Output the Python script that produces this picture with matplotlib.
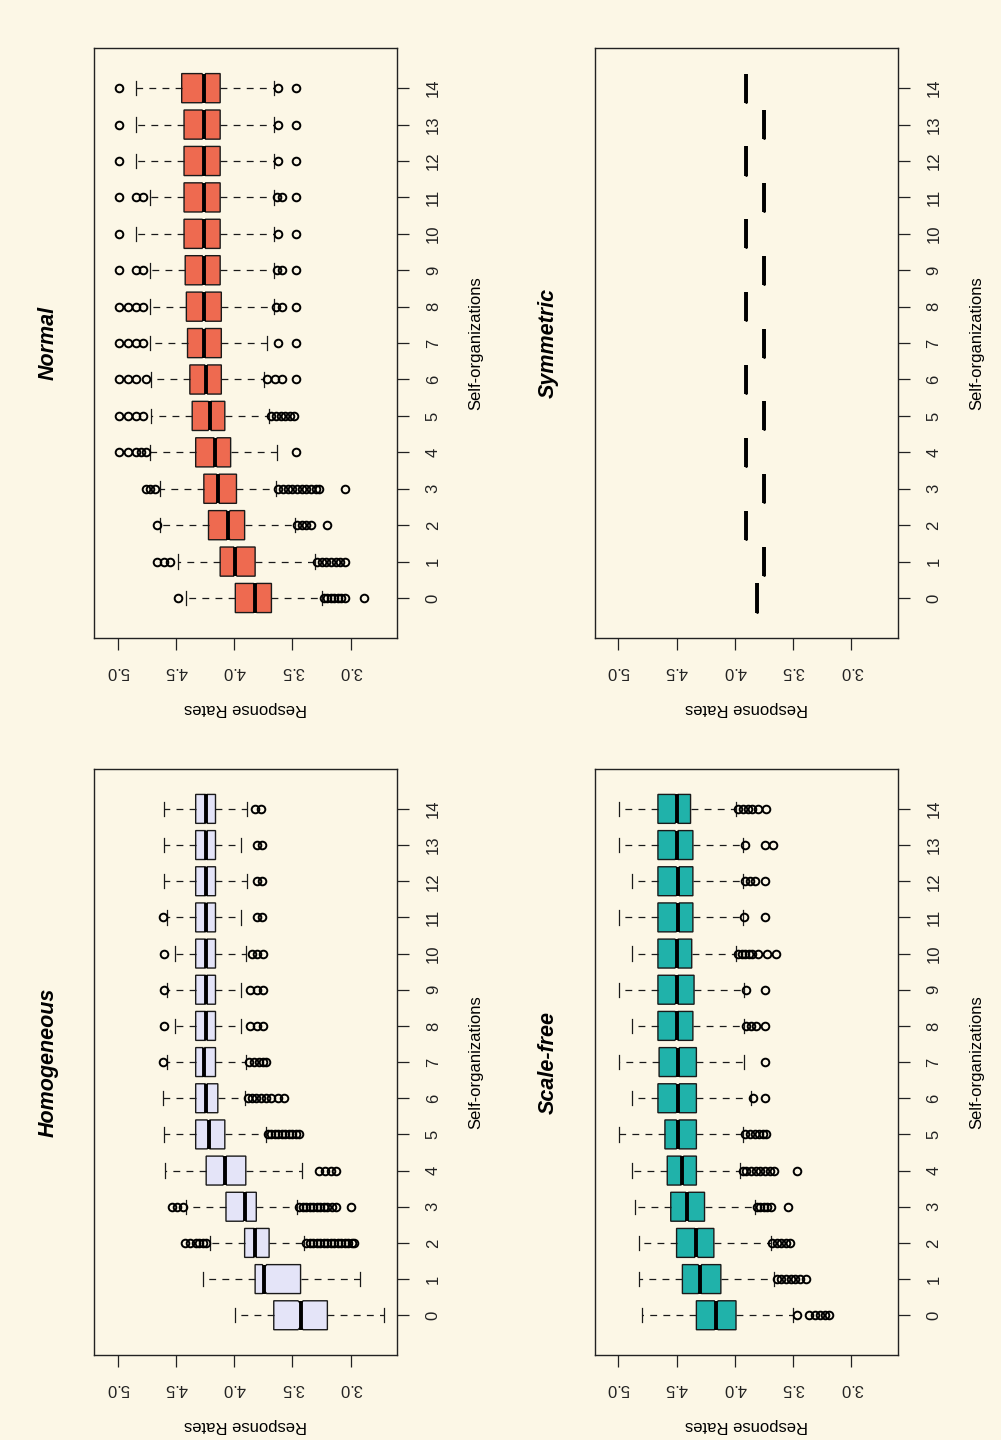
import numpy as np
import matplotlib
matplotlib.use("Agg")
import matplotlib.pyplot as plt
from matplotlib.path import Path

plt.rcParams['font.family'] = ['Liberation Sans', 'DejaVu Sans']

orgs = list(range(15))
tick_vals = [3.0, 3.5, 4.0, 4.5, 5.0]
n_runs = 1000   # runs per box, only used for the notch size

# Homogeneous
hom_whishi = [3.99, 4.27, 4.21, 4.41, 4.59, 4.60, 4.61, 4.58, 4.51, 4.58, 4.51, 4.58, 4.60, 4.60, 4.60]
hom_q3     = [3.66, 3.82, 3.91, 4.07, 4.24, 4.33, 4.33, 4.33, 4.33, 4.33, 4.33, 4.33, 4.33, 4.33, 4.33]
hom_med    = [3.43, 3.74, 3.82, 3.91, 4.08, 4.22, 4.24, 4.26, 4.24, 4.24, 4.24, 4.24, 4.24, 4.24, 4.24]
hom_q1     = [3.20, 3.43, 3.70, 3.81, 3.90, 4.08, 4.14, 4.16, 4.16, 4.16, 4.16, 4.16, 4.16, 4.16, 4.16]
hom_whislo = [2.71, 2.92, 3.40, 3.46, 3.42, 3.73, 3.91, 3.90, 3.94, 3.94, 3.90, 3.94, 3.89, 3.94, 3.89]
hom_fliers = [
    [],
    [],
    [4.42, 4.38, 4.33, 4.30, 4.27, 4.24, 3.38, 3.35, 3.32, 3.29, 3.26, 3.23, 3.20, 3.17,
     3.14, 3.11, 3.08, 3.05, 3.02, 2.99, 2.97],
    [4.53, 4.49, 4.44, 3.44, 3.41, 3.38, 3.35, 3.32, 3.29, 3.26, 3.23, 3.20, 3.16, 3.13, 3.00],
    [3.27, 3.22, 3.17, 3.13],
    [3.71, 3.68, 3.65, 3.62, 3.59, 3.56, 3.53, 3.50, 3.47, 3.44],
    [3.88, 3.85, 3.81, 3.77, 3.73, 3.68, 3.62, 3.57],
    [4.61, 3.87, 3.83, 3.79, 3.75, 3.73],
    [4.60, 3.86, 3.80, 3.75],
    [4.60, 3.86, 3.80, 3.75],
    [4.60, 3.85, 3.80, 3.75],
    [4.61, 3.80, 3.76],
    [3.80, 3.76],
    [3.80, 3.76],
    [3.82, 3.77],
]

# Normal
nor_whishi = [4.41, 4.48, 4.64, 4.64, 4.72, 4.71, 4.71, 4.72, 4.72, 4.72, 4.84, 4.72, 4.84, 4.84, 4.84]
nor_q3     = [3.99, 4.12, 4.22, 4.26, 4.33, 4.36, 4.38, 4.40, 4.41, 4.42, 4.43, 4.43, 4.43, 4.43, 4.45]
nor_med    = [3.82, 3.99, 4.05, 4.14, 4.16, 4.21, 4.24, 4.26, 4.26, 4.26, 4.26, 4.26, 4.26, 4.26, 4.26]
nor_q1     = [3.68, 3.82, 3.91, 3.98, 4.03, 4.08, 4.11, 4.11, 4.11, 4.12, 4.12, 4.12, 4.12, 4.12, 4.12]
nor_whislo = [3.25, 3.31, 3.48, 3.64, 3.63, 3.70, 3.74, 3.72, 3.66, 3.66, 3.66, 3.66, 3.66, 3.66, 3.66]
nor_fliers = [
    [4.48, 3.23, 3.20, 3.17, 3.14, 3.11, 3.08, 3.05, 2.89],
    [4.66, 4.60, 4.55, 3.29, 3.25, 3.21, 3.17, 3.13, 3.09, 3.05],
    [4.66, 3.46, 3.42, 3.38, 3.34, 3.20],
    [4.76, 4.72, 4.68, 3.62, 3.58, 3.54, 3.50, 3.46, 3.42, 3.38, 3.34, 3.30, 3.27, 3.05],
    [4.99, 4.91, 4.84, 4.80, 4.76, 3.47],
    [4.99, 4.91, 4.84, 4.78, 3.68, 3.64, 3.60, 3.56, 3.52, 3.49],
    [4.99, 4.91, 4.84, 4.76, 3.72, 3.65, 3.59, 3.47],
    [4.99, 4.91, 4.84, 4.78, 3.62, 3.47],
    [4.99, 4.91, 4.84, 4.78, 3.64, 3.59, 3.47],
    [4.99, 4.84, 4.78, 3.63, 3.59, 3.47],
    [4.99, 3.62, 3.47],
    [4.99, 4.84, 4.78, 3.63, 3.59, 3.47],
    [4.99, 3.62, 3.47],
    [4.99, 3.62, 3.47],
    [4.99, 3.62, 3.47],
]

# Scale-free
sf_whishi = [4.80, 4.82, 4.82, 4.86, 4.88, 4.99, 4.88, 4.99, 4.88, 4.99, 4.88, 4.99, 4.88, 4.99, 4.99]
sf_q3     = [4.33, 4.45, 4.50, 4.55, 4.58, 4.60, 4.66, 4.65, 4.66, 4.66, 4.66, 4.66, 4.66, 4.66, 4.66]
sf_med    = [4.16, 4.30, 4.33, 4.41, 4.45, 4.49, 4.49, 4.49, 4.50, 4.50, 4.50, 4.49, 4.49, 4.50, 4.50]
sf_q1     = [3.99, 4.12, 4.18, 4.26, 4.33, 4.33, 4.33, 4.33, 4.36, 4.35, 4.37, 4.36, 4.36, 4.36, 4.38]
sf_whislo = [3.50, 3.66, 3.69, 3.83, 3.96, 3.93, 3.86, 3.92, 3.92, 3.92, 3.99, 3.93, 3.93, 3.93, 3.99]
sf_fliers = [
    [3.47, 3.36, 3.31, 3.27, 3.23, 3.19],
    [3.64, 3.60, 3.56, 3.52, 3.48, 3.44, 3.39],
    [3.68, 3.64, 3.60, 3.56, 3.53],
    [3.81, 3.78, 3.75, 3.72, 3.69, 3.54],
    [3.93, 3.90, 3.86, 3.82, 3.78, 3.74, 3.70, 3.66, 3.47],
    [3.91, 3.87, 3.83, 3.79, 3.76, 3.73],
    [3.84, 3.74],
    [3.74],
    [3.90, 3.86, 3.82, 3.74],
    [3.90, 3.74],
    [3.97, 3.94, 3.91, 3.88, 3.85, 3.80, 3.72, 3.65],
    [3.92, 3.74],
    [3.91, 3.87, 3.83, 3.74],
    [3.91, 3.74, 3.67],
    [3.97, 3.93, 3.89, 3.85, 3.80, 3.73],
]

# Symmetric (every run gives the same value)
sym_med = [3.81, 3.75, 3.90, 3.75, 3.90, 3.75, 3.90, 3.75, 3.90, 3.75, 3.90, 3.75, 3.90, 3.75, 3.90]

bg = '#fcf7e6'
box_w = 0.8


def make_stats(whishi, q3, med, q1, whislo, fliers):
    out = []
    for hi, a, m, b, lo, fl in zip(whishi, q3, med, q1, whislo, fliers):
        ci = 1.57 * (a - b) / np.sqrt(n_runs)
        out.append(dict(med=m, q1=b, q3=a, whislo=lo, whishi=hi,
                        fliers=fl, cilo=m - ci, cihi=m + ci))
    return out


fig = plt.figure(figsize=(10.01, 14.40), dpi=100)
fig.patch.set_facecolor(bg)


def panel(rect, stats, color, title):
    ax = fig.add_axes(rect)
    ax.set_facecolor(bg)
    res = ax.bxp(stats, positions=orgs, widths=box_w, orientation='horizontal',
                 shownotches=True, patch_artist=True,
                 boxprops=dict(facecolor=color, edgecolor='#1a1a1a', linewidth=1.0),
                 whiskerprops=dict(color='#1a1a1a', linewidth=0.9, linestyle=(0, (5.5, 5))),
                 capprops=dict(color='#1a1a1a', linewidth=0.9),
                 medianprops=dict(color='black', linewidth=2.8, solid_capstyle='butt'),
                 flierprops=dict(marker='o', markerfacecolor='none', markeredgecolor='black',
                                 markersize=5.5, markeredgewidth=1.4))
    # shallower notch and full-width median, closer to R's look
    for p, box, line in zip(orgs, res['boxes'], res['medians']):
        path = box.get_path()
        v = path.vertices.copy()
        v[3, 1] = p + box_w * 0.41
        v[8, 1] = p - box_w * 0.41
        box.set_path(Path(v, path.codes))
        line.set_ydata([p - box_w / 2, p + box_w / 2])
    ax.set_xlim(5.2, 2.6)
    ax.set_ylim(-1.1, 15.1)
    ax.set_xticks(tick_vals)
    ax.set_xticklabels(['%.1f' % v for v in tick_vals], rotation=180)
    ax.set_yticks(orgs)
    ax.set_yticklabels([str(o) for o in orgs], rotation=90, va='center')
    ax.yaxis.tick_right()
    ax.yaxis.set_label_position('right')
    ax.tick_params(axis='both', direction='out', length=8.5, width=0.9,
                   labelsize=12, colors='#222222')
    ax.tick_params(axis='x', pad=10)
    ax.tick_params(axis='y', pad=12)
    ax.set_xlabel('Response Rates', rotation=180, fontsize=12, labelpad=16)
    ax.set_ylabel('Self-organizations', rotation=90, fontsize=12, labelpad=20)
    for s in ax.spines.values():
        s.set_linewidth(1.0)
        s.set_color('#222222')
    ax.text(-0.153, 0.5, title, transform=ax.transAxes, rotation=90,
            ha='center', va='center', fontsize=15.5, fontweight='bold', fontstyle='italic')
    return ax


panel([0.0942, 0.0590, 0.3027, 0.4069],
      make_stats(hom_whishi, hom_q3, hom_med, hom_q1, hom_whislo, hom_fliers),
      '#e4e4f8', 'Homogeneous')
panel([0.0942, 0.5569, 0.3027, 0.4097],
      make_stats(nor_whishi, nor_q3, nor_med, nor_q1, nor_whislo, nor_fliers),
      '#ee6a50', 'Normal')
panel([0.5944, 0.0590, 0.3027, 0.4069],
      make_stats(sf_whishi, sf_q3, sf_med, sf_q1, sf_whislo, sf_fliers),
      '#20b2aa', 'Scale-free')
panel([0.5944, 0.5569, 0.3027, 0.4097],
      make_stats(sym_med, sym_med, sym_med, sym_med, sym_med, [[] for _ in orgs]),
      '#20b2aa', 'Symmetric')

fig.savefig('out.png', dpi=100, facecolor=bg)
